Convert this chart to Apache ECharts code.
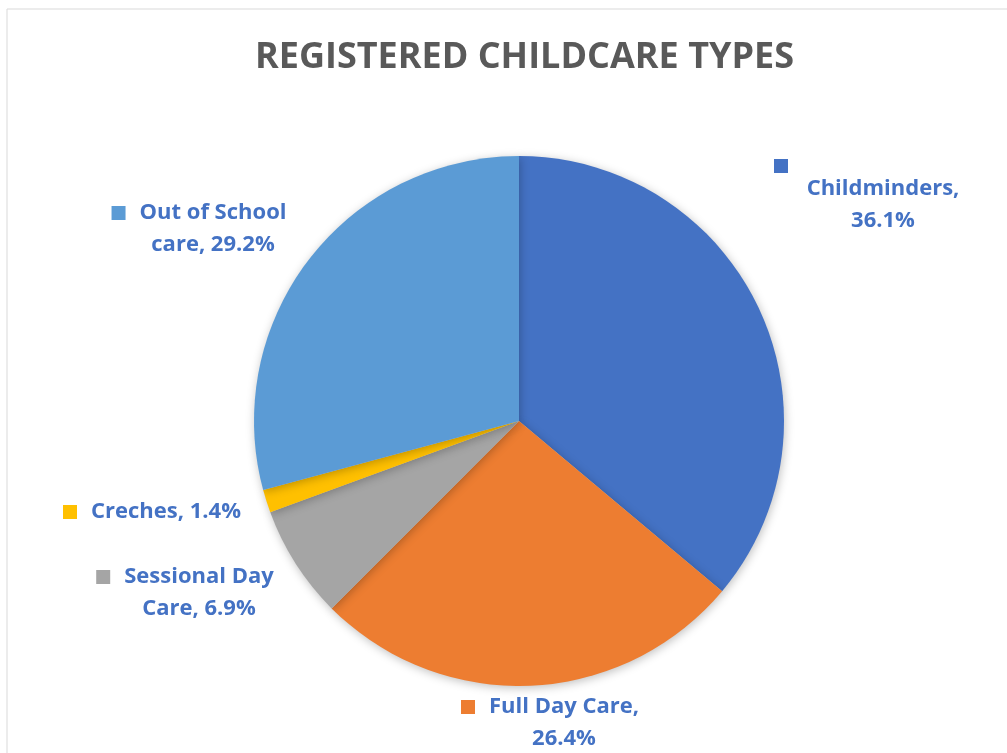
<!DOCTYPE html>
<html>
<head>
<meta charset="utf-8">
<script src="https://cdn.jsdelivr.net/npm/echarts@6/dist/echarts.min.js"></script>
<style>
html,body{margin:0;padding:0;background:#fff;}
#chart{width:1007px;height:753px;}
</style>
</head>
<body>
<div id="chart"></div>
<script>
const categories = ['Childminders', 'Full Day Care', 'Sessional Day Care', 'Creches', 'Out of School care'];
const values = [36.1, 26.4, 6.9, 1.4, 29.2];
const colors = ['#4472C4', '#ED7D31', '#A5A5A5', '#FFC000', '#5B9BD5'];
const titleText = 'REGISTERED CHILDCARE TYPES';
// label text lines (as in the reference's wrapped labels)
const labelLines = [
  ['Childminders,', '36.1%'],
  ['Full Day Care,', '26.4%'],
  ['Sessional Day', 'Care, 6.9%'],
  ['Creches, 1.4%'],
  ['Out of School', 'care, 29.2%']
];
// label block anchor positions (centre), and marker placement style
const labelPos = [[883, 198], [550, 723], [185, 593], [152, 512], [199, 229]];
const markerMode = ['ownLine', 'inline', 'inline', 'inline', 'inline'];

const chart = echarts.init(document.getElementById('chart'));
const FONT = 'Open Sans';
const LH = 32;
const FS = 22;

function richFor(i) {
  return {
    t: {fontFamily: FONT, fontWeight: 'bold', fontSize: FS, color: '#4472C4', lineHeight: LH},
    p: {fontFamily: FONT, fontWeight: 'bold', fontSize: FS, color: '#4472C4', lineHeight: LH, padding: [0, 0, 0, 28]},
    m: {width: 14, height: 14, backgroundColor: colors[i], lineHeight: LH},
    m1: {width: 14, height: 14, backgroundColor: colors[i], lineHeight: 14},
    g: {width: 14, lineHeight: LH},
    sp: {width: 204, fontSize: 10, color: 'rgba(255,255,255,0)', lineHeight: 14}
  };
}
function formatFor(i) {
  const lines = labelLines[i];
  if (markerMode[i] === 'ownLine') {
    return '{m1| }{sp|.}\n' + lines.map(l => '{t|' + l + '}').join('\n');
  }
  let s = '{m| }{g| }{t|' + lines[0] + '}';
  for (let k = 1; k < lines.length; k++) s += '\n{p|' + lines[k] + '}';
  return s;
}

const data = categories.map((c, i) => ({
  name: c,
  value: values[i],
  itemStyle: {color: colors[i]},
  label: {formatter: formatFor(i), rich: richFor(i)}
}));

chart.setOption({
  backgroundColor: '#ffffff',
  animation: false,
  title: {
    text: titleText,
    left: 250,
    top: 35,
    textStyle: {fontFamily: FONT, fontWeight: 'bold', fontSize: 36, color: '#595959'}
  },
  graphic: [
    {type: 'line', shape: {x1: 7, y1: 9, x2: 1007, y2: 9}, style: {stroke: '#d9d9d9', lineWidth: 1}},
    {type: 'line', shape: {x1: 7, y1: 9, x2: 7, y2: 753}, style: {stroke: '#d9d9d9', lineWidth: 1}}
  ],
  series: [{
    type: 'pie',
    center: [519, 421],
    radius: [0, 265],
    startAngle: 90,
    clockwise: true,
    avoidLabelOverlap: false,
    data: data,
    itemStyle: {shadowBlur: 10, shadowColor: 'rgba(0,0,0,0.25)', shadowOffsetX: 1, shadowOffsetY: 2},
    label: {show: true, position: 'outside', align: 'center', overflow: 'none', width: 400},
    labelLine: {show: false},
    labelLayout: function (params) {
      const p = labelPos[params.dataIndex];
      return {x: p[0], y: p[1], align: 'center', verticalAlign: 'middle'};
    },
    emphasis: {disabled: true}
  }]
});
</script>
</body>
</html>
